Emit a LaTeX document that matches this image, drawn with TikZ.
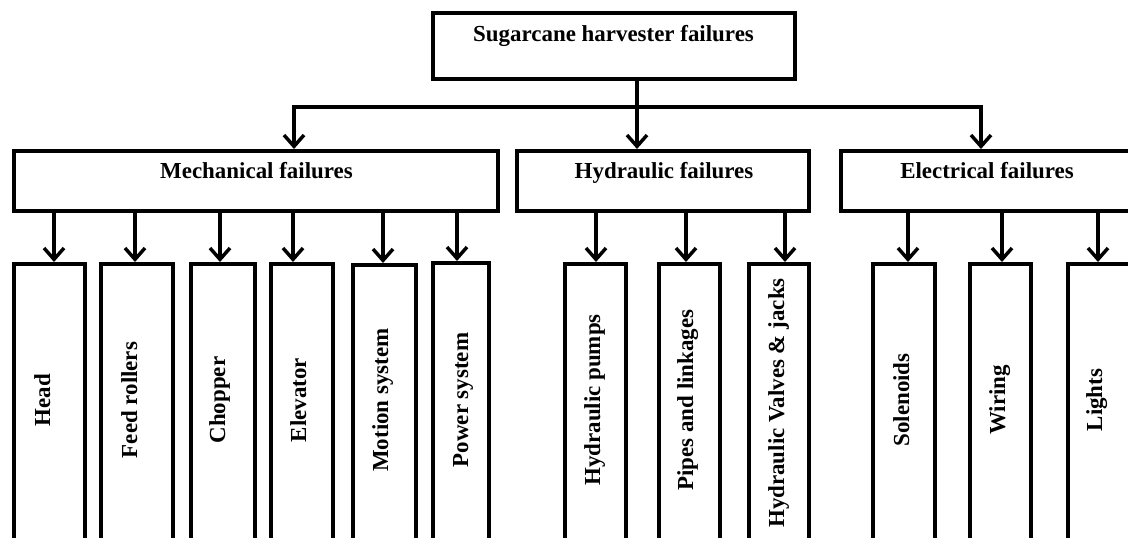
\documentclass[tikz,border=0pt]{standalone}
\usepackage{fontspec}
\setmainfont{Liberation Serif}
\usetikzlibrary{arrows.meta}
\newcommand\mkbox[5]{\node[box, minimum width={(#3-#2-3.6)*0.75pt}, minimum height={(#5-#4-3.6)*0.75pt}] (#1) at ({(#2+#3)/2},{(#4+#5)/2}) {};}
\begin{document}
\begin{tikzpicture}[x=0.75pt,y=-0.75pt,
  box/.style={draw, line width=2.7pt, inner sep=0pt, fill=white},
  arr/.style={line width=2.6pt, -{Straight Barb[length=8.5pt,width=15pt]}},
  lab/.style={font=\fontsize{17.2}{20}\selectfont\bfseries, inner sep=0pt, anchor=base},
  vlab/.style={lab, rotate=90}]
\clip (0,0) rectangle (1128,538);
\useasboundingbox (0,0) rectangle (1128,538);
% boxes
\mkbox{top}{431}{797}{11}{81}
\mkbox{mech}{12}{500}{149}{213}
\mkbox{hyd}{515}{811}{149}{213}
\mkbox{elec}{839}{1135}{149}{213}
\mkbox{head}{12}{87}{262}{542}
\mkbox{feed}{99}{175}{262}{542}
\mkbox{chop}{189}{257}{262}{542}
\mkbox{elev}{269}{335}{262}{542}
\mkbox{motion}{351}{418}{263}{542}
\mkbox{power}{431}{491}{261}{542}
\mkbox{pumps}{563}{628}{262}{542}
\mkbox{pipes}{657}{722}{262}{542}
\mkbox{valves}{747}{811}{262}{542}
\mkbox{sol}{871}{937}{262}{542}
\mkbox{wire}{968}{1033}{262}{542}
\mkbox{lights}{1066}{1132}{262}{542}
% texts
\node[lab] (ttop) at (613.5,42) {Sugarcane harvester failures};
\node[lab] (tmech) at (256.5,179) {Mechanical failures};
\node[lab] (thyd) at (664,179) {Hydraulic failures};
\node[lab] (telec) at (987,179) {Electrical failures};
\node[vlab] (thead) at (50,400) {Head};
\node[vlab] (tfeed) at (137,400) {Feed rollers};
\node[vlab] (tchop) at (225,400) {Chopper};
\node[vlab] (telev) at (306,400) {Elevator};
\node[vlab] (tmotion) at (388,400) {Motion system};
\node[vlab] (tpower) at (468,400) {Power system};
\node[vlab] (tpumps) at (600,400) {Hydraulic pumps};
\node[vlab] (tpipes) at (693,400) {Pipes and linkages};
\node[vlab] (tvalves) at (784,403) {Hydraulic Valves \& jacks};
\node[vlab] (tsol) at (909,400) {Solenoids};
\node[vlab] (twire) at (1005,400) {Wiring};
\node[vlab] (tlights) at (1102,400) {Lights};
% top level connectors
\coordinate (jm) at (637,107);
\coordinate (jl) at (294,107);
\coordinate (jr) at (981,107);
\draw[arr] (top.south -| jm) -- (hyd.north -| jm);
\draw[arr] (jm) -- (jl) -- (mech.north -| jl);
\draw[arr] (jm) -- (jr) -- (elec.north -| jr);
% second level connectors
\foreach \x/\b in {54/head,135/feed,220/chop,293/elev,383/motion,457/power}{
  \coordinate (c\b) at (\x,0);
  \draw[arr] (mech.south -| c\b) -- (\b.north -| c\b);
}
\foreach \x/\b in {596/pumps,686/pipes,785/valves}{
  \coordinate (c\b) at (\x,0);
  \draw[arr] (hyd.south -| c\b) -- (\b.north -| c\b);
}
\foreach \x/\b in {908/sol,1002/wire,1098/lights}{
  \coordinate (c\b) at (\x,0);
  \draw[arr] (elec.south -| c\b) -- (\b.north -| c\b);
}
\end{tikzpicture}
\end{document}
